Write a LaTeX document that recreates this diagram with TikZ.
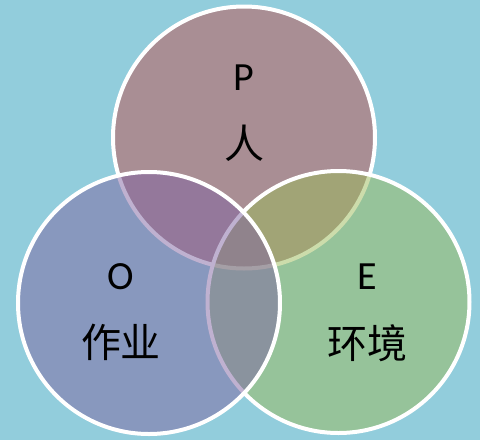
\documentclass[tikz,border=0pt]{standalone}
\usepackage{fontspec}
\setmainfont{Carlito}
\newfontfamily\cjk{Noto Sans CJK SC}
\definecolor{bgc}{HTML}{92CDDC}
\definecolor{pc}{HTML}{C0504D}
\definecolor{oc}{HTML}{8064A2}
\definecolor{ec}{HTML}{9BBB59}
\tikzset{
  venn/.style={draw=white, line width=4pt, fill opacity=0.5},
  lat/.style={font=\fontsize{40}{48}\selectfont, inner sep=0pt},
  han/.style={font=\cjk\fontsize{40}{48}\selectfont, inner sep=0pt}
}
\begin{document}
\begin{tikzpicture}[x=1pt,y=-1pt]
\fill[bgc] (0,0) rectangle (480,440);
\useasboundingbox (0,0) rectangle (480,440);
\draw[venn, fill=pc] (244,137.5) circle[radius=131];
\draw[venn, fill=ec] (338.5,302) circle[radius=131];
\draw[venn, fill=oc] (149,303) circle[radius=131];
\node[lat] (p) at (244,78) {P};
\node[han] (pz) at (244,143) {人};
\node[lat] (o) at (121,277) {O};
\node[han] (oz) at (121,342) {作业};
\node[lat] (e) at (367,277) {E};
\node[han] (ez) at (367,343) {环境};
\end{tikzpicture}
\end{document}
